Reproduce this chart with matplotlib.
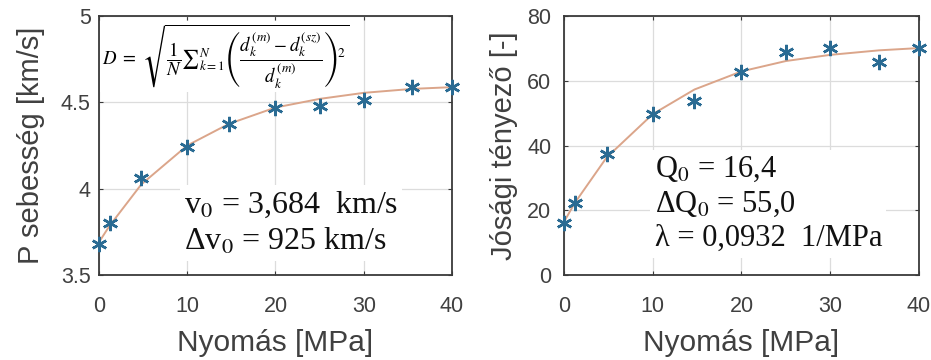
import numpy as np
import matplotlib
matplotlib.use('Agg')
import matplotlib.pyplot as plt

# pressure values [MPa]
nyomas = [0, 1.2, 4.8, 10, 14.7, 20, 25, 30, 35.5, 40]

# P-wave velocity: measured and fitted [km/s]
v_meres = [3.68, 3.80, 4.06, 4.24, 4.375, 4.465, 4.48, 4.515, 4.59, 4.59]
v_illesztes = [3.69, 3.785, 4.025, 4.25, 4.375, 4.47, 4.52, 4.555, 4.578, 4.588]

# quality factor: measured and fitted [-]
q_meres = [16.2, 22.2, 37.4, 49.8, 53.6, 62.8, 68.8, 70.2, 65.9, 70.0]
q_illesztes = [16.4, 22.2, 36.3, 49.7, 57.3, 62.9, 66.1, 68.0, 69.4, 70.1]

x_ticks = [0, 10, 20, 30, 40]
v_ticks = [3.5, 4, 4.5, 5]
v_tick_labels = ['3.5', '4', '4.5', '5']
q_ticks = [0, 20, 40, 60, 80]

pont_szin = '#2a6b93'
gorbe_szin = '#dba58a'
tengely_szin = '#3a3a3a'
szoveg_szin = '#404040'

plt.rcParams['font.family'] = ['Liberation Sans', 'DejaVu Sans']
plt.rcParams['mathtext.fontset'] = 'stix'

fig = plt.figure(figsize=(9.31, 3.6), dpi=100)
ax1 = fig.add_axes([0.1063, 0.2361, 0.3792, 0.7194])
ax2 = fig.add_axes([0.6058, 0.2361, 0.3813, 0.7194])


def alap(ax, yticks, ylim, ylabel, ypad, ylpad, labels=None):
    ax.set_xlim(0, 40)
    ax.set_ylim(*ylim)
    ax.set_xticks(x_ticks)
    ax.set_yticks(yticks)
    if labels is not None:
        ax.set_yticklabels(labels)
    ax.grid(True, color='#dcdcdc', linewidth=0.9)
    ax.set_axisbelow(True)
    for s in ax.spines.values():
        s.set_color(tengely_szin)
        s.set_linewidth(1.3)
    ax.tick_params(direction='in', length=3, width=0.8, color=tengely_szin,
                   labelsize=15.5, labelcolor=szoveg_szin,
                   top=True, right=True)
    ax.tick_params(axis='x', pad=15)
    ax.tick_params(axis='y', pad=ypad)
    ax.set_xlabel('Nyomás [MPa]', fontsize=21.5, color=szoveg_szin, labelpad=9)
    ax.set_ylabel(ylabel, fontsize=21, color=szoveg_szin, labelpad=ylpad)


alap(ax1, v_ticks, (3.5, 5), 'P sebesség [km/s]', 6, 11, v_tick_labels)
alap(ax2, q_ticks, (0, 80), 'Jósági tényező [-]', 9, 7)

for ax, meres, illesztes in [(ax1, v_meres, v_illesztes), (ax2, q_meres, q_illesztes)]:
    ax.plot(nyomas, illesztes, color=gorbe_szin, linewidth=1.4, zorder=3)
    ax.plot(nyomas, meres, linestyle='none', marker=(6, 2, 0), markersize=11,
            markeredgewidth=1.8, color=pont_szin, zorder=4, clip_on=False)

# white boxes hiding the grid behind the annotations
box = dict(facecolor='white', edgecolor='none', pad=3)
serif = ['Liberation Serif', 'DejaVu Serif']

ax1.text(0.008, 0.975,
         r'$D\ =\ \sqrt{\dfrac{1}{N}{\sum}_{k=1}^{N}\left(\dfrac{d_k^{(m)}-d_k^{(sz)}}{d_k^{(m)}}\right)^2}$',
         transform=ax1.transAxes, ha='left', va='top', fontsize=13.5,
         color='black', bbox=dict(facecolor='white', edgecolor='none', pad=1), zorder=5)

ax1.text(0.24, 0.33, 'v$_0$ = 3,684  km/s\nΔv$_0$ = 925 km/s',
         transform=ax1.transAxes, ha='left', va='top', fontsize=23,
         family=serif, linespacing=1.3,
         color='#111111', bbox=box, zorder=5)

ax2.text(0.255, 0.465, 'Q$_0$ = 16,4\nΔQ$_0$ = 55,0\nλ = 0,0932  1/MPa',
         transform=ax2.transAxes, ha='left', va='top', fontsize=22,
         family=serif, linespacing=1.25,
         color='#111111', bbox=box, zorder=5)

fig.savefig('out.png', dpi=100, facecolor='white')
